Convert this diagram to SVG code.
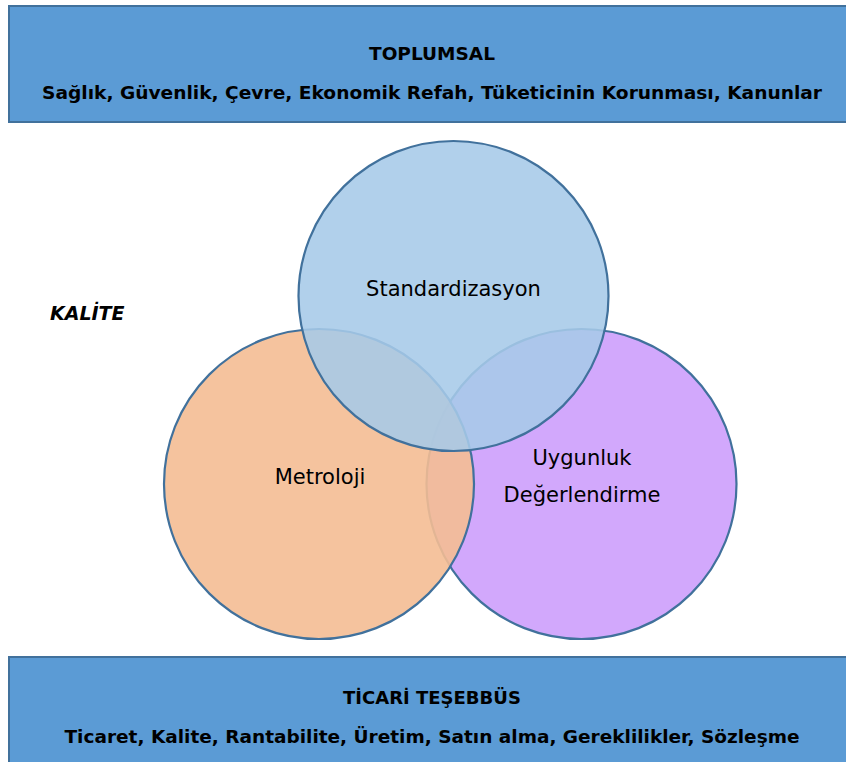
<svg xmlns="http://www.w3.org/2000/svg" width="846" height="762" viewBox="0 0 846 762">
<style>
.band{fill:#5B9BD5;stroke:#41719C;stroke-width:2}
.bt{font-family:"DejaVu Sans","Liberation Sans",sans-serif;font-weight:bold;font-size:18px;fill:#000;text-anchor:middle}
.ct{font-family:"DejaVu Sans","Liberation Sans",sans-serif;font-size:21px;fill:#000;text-anchor:middle}
.circ{stroke:#41719C;stroke-width:2.2}
</style>
<rect width="846" height="762" fill="#fff"/>
<g id="toplumsal">
<rect class="band" x="9" y="6" width="845" height="116"/>
<text class="bt" x="432" y="60" textLength="126" lengthAdjust="spacingAndGlyphs">TOPLUMSAL</text>
<text class="bt" x="432" y="99" textLength="780" lengthAdjust="spacingAndGlyphs">Sağlık, Güvenlik, Çevre, Ekonomik Refah, Tüketicinin Korunması, Kanunlar</text>
</g>
<g id="ticari">
<rect class="band" x="9" y="657" width="845" height="116"/>
<text class="bt" x="432" y="704">TİCARİ TEŞEBBÜS</text>
<text class="bt" x="432" y="743" textLength="735" lengthAdjust="spacingAndGlyphs">Ticaret, Kalite, Rantabilite, Üretim, Satın alma, Gereklilikler, Sözleşme</text>
</g>
<g id="kalite">
<text x="50" y="320" font-family="'DejaVu Sans','Liberation Sans',sans-serif" font-weight="bold" font-style="italic" font-size="19px">KALİTE</text>
</g>
<g id="uygunluk">
<circle class="circ" cx="581.5" cy="484" r="155" fill="#D2A8FC"/>
</g>
<g id="metroloji">
<circle class="circ" cx="319" cy="484" r="155" fill="#F4BC94" fill-opacity="0.9"/>
</g>
<g id="standardizasyon">
<circle class="circ" cx="453.5" cy="296" r="155" fill="#A6C9E8" fill-opacity="0.88"/>
<text class="ct" x="453.5" y="296">Standardizasyon</text>
</g>
<g id="labels">
<text class="ct" x="320" y="484">Metroloji</text>
<text class="ct" x="582" y="465">Uygunluk</text>
<text class="ct" x="582" y="502">Değerlendirme</text>
</g>
<g id="connectors"></g>
</svg>
